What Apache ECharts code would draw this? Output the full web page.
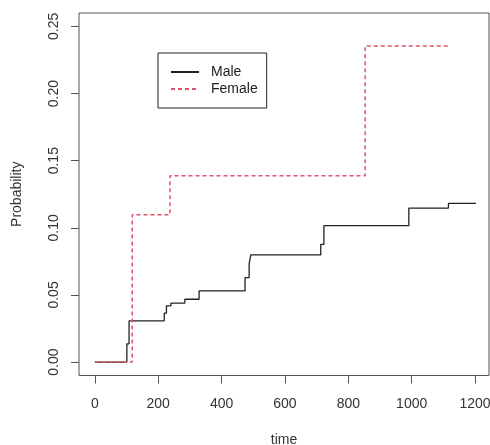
<!DOCTYPE html>
<html>
<head>
<meta charset="utf-8">
<script src="https://cdn.jsdelivr.net/npm/echarts@6/dist/echarts.min.js"></script>
<style>
html, body { margin: 0; padding: 0; background: #fff; }
#chart { width: 490px; height: 445px; }
</style>
</head>
<body>
<div id="chart"></div>
<script>
'use strict';
// Male step curve
var maleTime = [0, 101, 108, 219, 226, 240, 284, 329, 474, 487, 492, 713, 723, 991, 1116, 1203];
var maleProb = [0, 0.0136, 0.0307, 0.0364, 0.0419, 0.0439, 0.0468, 0.0530, 0.0629, 0.0729, 0.0798, 0.0877, 0.1016, 0.1147, 0.1182, 0.1182];
// Female step curve
var femaleTime = [0, 118, 237, 853, 1123];
var femaleProb = [0, 0.1098, 0.1388, 0.2354, 0.2354];

var xTicks = [0, 200, 400, 600, 800, 1000, 1200];
var yTicks = [0, 0.05, 0.10, 0.15, 0.20, 0.25];

function pairs(xs, ys) {
	return xs.map(function (x, i) { return [x, ys[i]]; });
}

var textColor = '#333';
var boxColor = '#555';

var myChart = echarts.init(document.getElementById('chart'));
var option = {
	animation: false,
	grid: {
		left: 79, top: 13, right: 1, bottom: 69.5,
		outerBoundsMode: 'none',
		containLabel: false,
		show: true,
		borderColor: boxColor,
		borderWidth: 1,
		backgroundColor: '#fff'
	},
	legend: {
		orient: 'vertical',
		left: 158,
		top: 53,
		padding: [12, 9, 12, 12],
		itemGap: 3,
		itemWidth: 28,
		itemHeight: 14,
		borderColor: '#222',
		borderWidth: 1,
		itemStyle: { opacity: 0 },
		textStyle: {
			fontFamily: 'Liberation Sans',
			fontSize: 14,
			color: '#222',
			padding: [0, 0, 0, 7]
		},
		data: ['Male', 'Female']
	},
	xAxis: {
		type: 'value',
		min: -50,
		max: 1244,
		name: 'time',
		nameLocation: 'middle',
		nameGap: 58,
		nameTextStyle: { fontFamily: 'Liberation Sans', fontSize: 14, color: textColor },
		axisLine: { show: false, onZero: false },
		splitLine: { show: false },
		axisTick: {
			show: true, inside: false, length: 8, customValues: xTicks,
			lineStyle: { color: boxColor }
		},
		axisLabel: {
			customValues: xTicks,
			margin: 22,
			fontFamily: 'Liberation Sans',
			fontSize: 14,
			color: textColor,
			formatter: function (v) { return String(v); }
		}
	},
	yAxis: {
		type: 'value',
		min: -0.01,
		max: 0.26,
		name: 'Probability',
		nameLocation: 'middle',
		nameGap: 55,
		nameTextStyle: { fontFamily: 'Liberation Sans', fontSize: 14, color: textColor },
		axisLine: { show: false, onZero: false },
		splitLine: { show: false },
		axisTick: {
			show: true, inside: false, length: 8, customValues: yTicks,
			lineStyle: { color: boxColor }
		},
		axisLabel: {
			customValues: yTicks,
			rotate: 90,
			margin: 18,
			fontFamily: 'Liberation Sans',
			fontSize: 14,
			color: textColor,
			formatter: function (v) { return v.toFixed(2); }
		}
	},
	series: [
		{
			name: 'Male',
			type: 'line',
			step: 'end',
			symbol: 'none',
			data: pairs(maleTime, maleProb),
			lineStyle: { color: '#222', width: 1.3 },
			itemStyle: { color: '#222' }
		},
		{
			name: 'Female',
			type: 'line',
			step: 'end',
			symbol: 'none',
			data: pairs(femaleTime, femaleProb),
			lineStyle: { color: '#DF536B', width: 1.5, type: [4, 3] },
			itemStyle: { color: '#DF536B' }
		}
	]
};
myChart.setOption(option);
</script>
</body>
</html>
